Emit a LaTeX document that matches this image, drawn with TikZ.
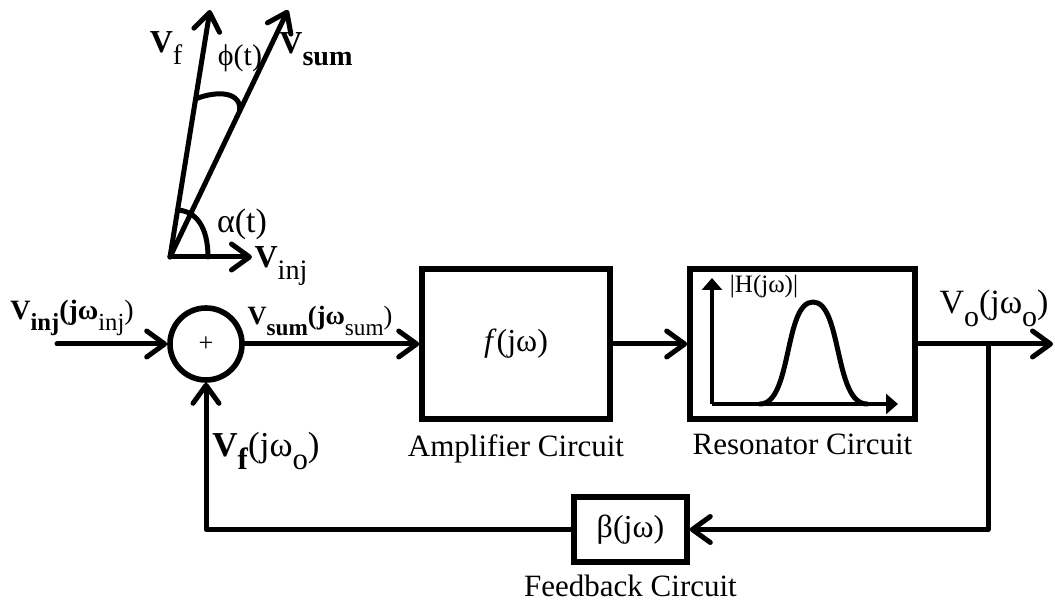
\documentclass[tikz,border=0pt]{standalone}
\usepackage{fontspec}
\setmainfont{Liberation Serif}
\usetikzlibrary{arrows.meta,positioning,calc}

\newcommand{\lsub}[1]{\raisebox{-0.85ex}{\scalebox{0.88}{#1}}}

\tikzset{
  wire/.style={line width=2.5pt,line cap=round,line join=round},
  sig/.style={wire,-{Straight Barb[round,length=9pt,width=13pt]}},
  block/.style={draw,line width=2.8pt,inner sep=0pt,font=\fontsize{16}{19}\selectfont},
  plotax/.style={line width=2pt,-{Triangle[length=6pt,width=10pt]}},
  lbl/.style={inner sep=0pt,font=\fontsize{14}{17}\selectfont},
  caption/.style={inner sep=0pt,font=\fontsize{15.5}{18}\selectfont}
}

\begin{document}
\begin{tikzpicture}[x=0.5pt,y=-0.5pt]
  \useasboundingbox (0,0) rectangle (1055,608);

  % phasor sketch
  \coordinate (O) at (170,257);
  \coordinate (Vinj) at (252,257);
  \coordinate (Vf) at (210,10);
  \coordinate (Vsum) at (288,10);
  \draw[sig] (O) -- (Vinj);
  \draw[sig] (O) -- (Vf);
  \draw[sig] (O) -- (Vsum);
  \draw[wire] ($(O)+(38,0)$) .. controls ($(O)+(38,-30)$) and ($(O)+(26,-46)$) .. ($(O)!0.19!(Vf)$);
  \draw[wire] ($(O)!0.64!(Vf)$) .. controls (218,90) and (242,92) .. ($(O)!0.59!(Vsum)$);
  \node[lbl,font=\fontsize{16}{19}\selectfont] (vflbl) at (166,48) {\textbf{V}\lsub{f}};
  \node[lbl,font=\fontsize{15}{18}\selectfont] (philbl) at (240,58) {ϕ(t)};
  \node[lbl,font=\fontsize{16}{19}\selectfont] (vsumlbl) at (316,49) {\textbf{V}\lsub{\textbf{sum}}};
  \node[lbl,font=\fontsize{17}{20}\selectfont] (alphalbl) at (242,224) {α(t)};
  \node[lbl,font=\fontsize{16}{19}\selectfont] (vinjlbl) at (281,266) {\textbf{V}\lsub{inj}};

  % loop
  \node[block,circle,minimum size=36pt,font=\fontsize{13}{15}\selectfont] (sum) at (206,344) {+};
  \node[block,minimum width=94pt,minimum height=75pt] (amp) at (516,344) {\textit{f}(jω)};
  \node[block,minimum width=112.5pt,minimum height=75pt] (res) at (802.5,344) {};
  \node[block,minimum width=56.5pt,minimum height=32.5pt] (fb) at (630.5,529.5) {β(jω)};
  \node[caption,below=6pt of amp] (ampcap) {Amplifier Circuit};
  \node[caption,below=6pt of res] (rescap) {Resonator Circuit};
  \node[caption,below=5pt of fb] (fbcap) {Feedback Circuit};

  \coordinate (in) at (57,344);
  \coordinate (out) at (1053,344);
  \coordinate (tap) at (988,344);
  \draw[sig] (in) -- (sum);
  \draw[sig] (sum) -- (amp);
  \draw[sig] (amp) -- (res);
  \draw[sig] (res) -- (out);
  \draw[sig] (tap) |- (fb);
  \draw[sig] (fb) -| (sum);

  % response inside resonator
  \coordinate (ax0) at (712,404);
  \draw[plotax] (ax0) -- (712,278);
  \draw[plotax] (ax0) -- (898,404);
  \draw[wire] (760,404) .. controls (792,404) and (784,302) .. (813,302)
    .. controls (842,302) and (834,404) .. (867,404);
  \node[lbl,font=\fontsize{12.5}{14}\selectfont] (hlbl) at (764,287) {|H(jω)|};

  \node[lbl] (vinlbl) at (72,318) {\textbf{V}\lsub{\textbf{inj}}\textbf{(jω}\lsub{inj})};
  \node[lbl,font=\fontsize{13.2}{16}\selectfont] (vsumin) at (320,321) {\textbf{V}\lsub{\textbf{sum}}\textbf{(jω}\lsub{sum})};
  \node[lbl,font=\fontsize{17.5}{20}\selectfont] (vfin) at (266,451) {\textbf{V}\lsub{\textbf{f}}(jω\lsub{o})};
  \node[lbl,font=\fontsize{17}{20}\selectfont] (volbl) at (994,308) {V\lsub{o}(jω\lsub{o})};
\end{tikzpicture}
\end{document}
